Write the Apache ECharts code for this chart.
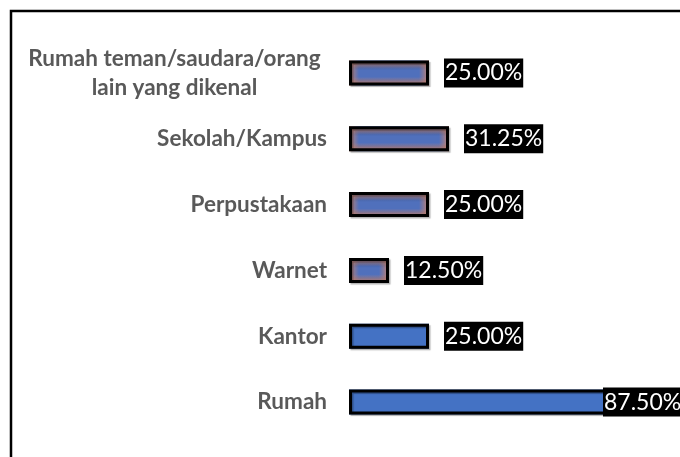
<html><head>
<meta charset="UTF-8">
<title>Tempat akses</title>
<style>
  body { margin: 0; background: #fff; }
  #chart { width: 680px; height: 457px; }
</style>
</head>
<body>
  <div id="chart"></div>
  <script src="https://cdn.jsdelivr.net/npm/echarts@6/dist/echarts.min.js"></script>
  <script>
    // data, bottom to top
    const categories = ['Rumah', 'Kantor', 'Warnet', 'Perpustakaan', 'Sekolah/Kampus',
      'Rumah teman/saudara/orang lain yang dikenal'];
    const values = [87.5, 25, 12.5, 25, 31.25, 25];
    const shaded = [false, false, true, true, true, true];

    const blue = '#4472C4';
    const brown = '200,132,112';
    const pxPerUnit = 320 / 100;

    function wrap(text) {
      if (text.length <= 26) return text;
      const cut = text.lastIndexOf(' ', 26);
      return '{c|' + text.slice(0, cut) + '}\n{c|' + text.slice(cut + 1) + '}';
    }

    // fill of the base bars: solid blue or fading to brown at the ends
    const baseData = values.map((v, i) => {
      if (!shaded[i]) return { value: v, itemStyle: { color: blue } };
      const f = Math.min(0.3, 10 / (v * pxPerUnit));
      return {
        value: v,
        itemStyle: {
          color: {
            type: 'linear', x: 0, y: 0, x2: 1, y2: 0,
            colorStops: [
              { offset: 0, color: 'rgb(' + brown + ')' },
              { offset: f, color: '#5070BC' },
              { offset: 1 - f, color: '#5070BC' },
              { offset: 1, color: 'rgb(' + brown + ')' }
            ]
          }
        }
      };
    });

    // overlay: top/bottom fade, border and labels
    const topData = values.map((v, i) => {
      const item = {
        value: v,
        itemStyle: {
          color: shaded[i] ? {
            type: 'linear', x: 0, y: 0, x2: 0, y2: 1,
            colorStops: [
              { offset: 0, color: 'rgba(' + brown + ',1)' },
              { offset: 0.34, color: 'rgba(' + brown + ',0)' },
              { offset: 0.66, color: 'rgba(' + brown + ',0)' },
              { offset: 1, color: 'rgba(' + brown + ',1)' }
            ]
          } : 'rgba(0,0,0,0)'
        }
      };
      if (i === 0) item.label = { distance: -26 };
      return item;
    });

    const chart = echarts.init(document.getElementById('chart'));
    chart.setOption({
      animation: false,
      graphic: [{
        type: 'rect',
        shape: { x: 11, y: 11, width: 1000, height: 1000 },
        style: { fill: 'none', stroke: '#000', lineWidth: 2.5 },
        silent: true
      }],
      grid: { left: 349, right: 11, top: 40, bottom: 22 },
      xAxis: {
        type: 'value', min: 0, max: 100, show: false
      },
      yAxis: {
        type: 'category',
        data: categories,
        axisLine: { show: false },
        axisTick: { show: false },
        axisLabel: {
          margin: 22,
          color: '#595959',
          fontFamily: 'Lato',
          fontWeight: 'bold',
          fontSize: 22.5,
          formatter: wrap,
          rich: {
            c: {
              width: 305, align: 'center', lineHeight: 29,
              color: '#595959', fontFamily: 'Lato', fontWeight: 'bold', fontSize: 22.5
            }
          }
        }
      },
      series: [
        {
          type: 'bar',
          data: baseData,
          barWidth: 25,
          barGap: '-100%',
          silent: true
        },
        {
          type: 'bar',
          data: topData,
          barWidth: 25,
          barGap: '-100%',
          itemStyle: {
            borderColor: '#000',
            borderWidth: 3,
            shadowColor: 'rgba(0,0,0,0.3)',
            shadowOffsetX: 1.5,
            shadowOffsetY: 1.5,
            shadowBlur: 1
          },
          label: {
            show: true,
            position: 'right',
            distance: 15,
            color: '#fff',
            backgroundColor: '#000',
            fontFamily: 'Lato',
            fontSize: 23,
            padding: [4, 1, 2, 1],
            formatter: p => p.value.toFixed(2) + '%'
          }
        }
      ]
    });
  </script>
</body></html>
